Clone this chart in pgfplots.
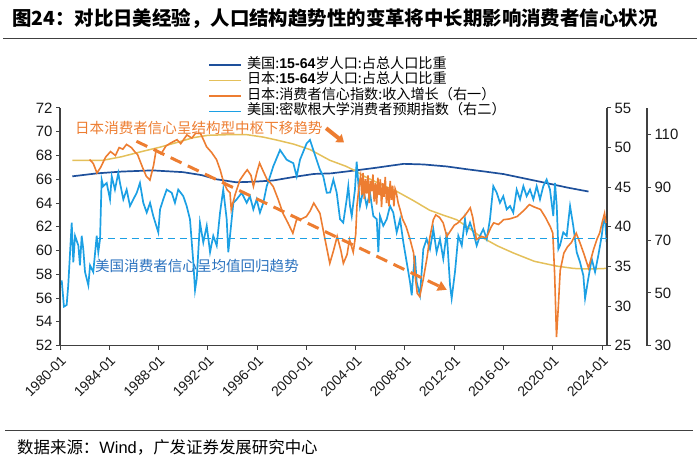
\documentclass[border=0pt]{standalone}
\usepackage{fontspec}
\setmainfont{Liberation Sans}
\newfontfamily\cjk{Noto Sans CJK SC}
\usepackage{pgfplots}
\pgfplotsset{compat=1.18}
\usetikzlibrary{arrows.meta}
\definecolor{usblue}{RGB}{30,80,155}
\definecolor{jpgold}{RGB}{228,192,90}
\definecolor{jporange}{RGB}{237,125,49}
\definecolor{mich}{RGB}{28,160,228}
\definecolor{txtblue}{RGB}{41,113,190}
\definecolor{axisgray}{RGB}{64,64,64}
\pgfplotsset{
  base/.style={
    at={(60bp,115.3bp)}, anchor=south west,
    width=547bp, height=237.7bp, scale only axis,
    xmin=1980, xmax=2024.4,
    axis line style={axisgray, line width=1.1bp},
    tick style={axisgray, line width=1bp},
    tick align=outside, major tick length=4bp,
    /pgf/number format/assume math mode=true,
    tick label style={font=\fontsize{15}{15}\selectfont, color=black!90},
    clip=false,
  },
}
\begin{document}
\begin{tikzpicture}[x=1bp,y=1bp]
\useasboundingbox (0,0) rectangle (700,461);
% title & footer
\node[anchor=west, inner sep=0] at (12,442) {\fontsize{19.5}{20}\selectfont\bfseries\cjk 图24：对比日美经验，人口结构趋势性的变革将中长期影响消费者信心状况};
\draw[axisgray, line width=1.2bp] (3,422.5) -- (697,422.5);
\draw[axisgray, line width=1.2bp] (5,30.3) -- (693,30.3);
\node[anchor=west, inner sep=0] at (17,14) {\fontsize{16.5}{17}\selectfont{\cjk 数据来源：}Wind{\cjk ，广发证券发展研究中心}};

% ---------- left axis ----------
\begin{axis}[base,
  ymin=52, ymax=72, ytick={52,54,...,72},
  axis x line*=bottom, axis y line*=left,
  xtick={1980,1984,...,2024},
  xticklabels={1980-01,1984-01,1988-01,1992-01,1996-01,2000-01,2004-01,2008-01,2012-01,2016-01,2020-01,2024-01},
  x tick label style={rotate=45, anchor=north east, font=\fontsize{14}{14}\selectfont},
  legend cell align=left,
  legend style={at={(0.2711,1.2133)}, anchor=north west, draw=none, fill=none,
    inner sep=0pt, row sep=0pt,
    nodes={inner sep=0pt, text height=11bp, text depth=4.4bp},
    font=\fontsize{14.2}{14}\selectfont},
  legend image code/.code={\draw[#1] (0bp,0bp) -- (32bp,0bp); \path (37bp,0bp);},
]
\addlegendimage{usblue, line width=1.6bp}
\addlegendentry{{\cjk 美国:}\textbf{15-64}{\cjk 岁人口:占总人口比重}}
\addlegendimage{jpgold, line width=1.6bp}
\addlegendentry{{\cjk 日本:}\textbf{15-64}{\cjk 岁人口:占总人口比重}}
\addlegendimage{jporange, line width=1.6bp}
\addlegendentry{{\cjk 日本:消费者信心指数:收入增长（右一）}}
\addlegendimage{mich, line width=1.6bp}
\addlegendentry{{\cjk 美国:密歇根大学消费者预期指数（右二）}}

\addplot[usblue, line width=1.7bp, forget plot] coordinates {
(1981.0,66.25) (1983.0,66.5) (1985.0,66.65) (1987.5,66.75) (1990.0,66.6) (1991.5,66.35)
(1992.7,66.0) (1994.3,65.75) (1995.8,65.8) (1997.3,65.9) (1999.0,66.2) (2000.6,66.45)
(2002.0,66.5) (2004.0,66.75) (2005.5,66.95) (2006.8,67.14) (2007.9,67.3) (2009.5,67.25)
(2011.4,67.08) (2013.0,66.85) (2014.5,66.65) (2016.0,66.44) (2017.8,66.05) (2019.5,65.68)
(2021.2,65.3) (2022.9,64.97)};
\addplot[jpgold, line width=1.5bp, forget plot] coordinates {
(1981.0,67.6) (1983.5,67.6) (1985.0,67.9) (1986.5,68.3) (1988.1,68.7) (1989.5,69.1)
(1990.8,69.5) (1992.0,69.7) (1993.5,69.75) (1995.2,69.75) (1996.5,69.55) (1997.6,69.3)
(1999.0,68.95) (2000.3,68.5) (2001.9,67.6) (2003.2,67.1) (2004.0,66.7) (2004.6,66.3)
(2006.0,65.6) (2007.3,65.0) (2008.7,64.2) (2010.0,63.4) (2011.2,62.95) (2012.2,62.6)
(2013.2,61.9) (2014.1,61.2) (2015.5,60.4) (2016.8,59.8) (2018.5,59.1) (2020.3,58.7)
(2021.7,58.5) (2023.0,58.45) (2024.3,58.5)};
\end{axis}

% ---------- right axis 2 (Michigan) ----------
\begin{axis}[base,
  ymin=30, ymax=120, ytick={30,50,...,110},
  axis x line=none, axis y line*=right,
  y axis line style={xshift=40bp},
  ytick style={xshift=40bp},
  yticklabel style={xshift=40bp},
]
\addplot[mich, line width=1.7bp] coordinates {
(1980.14,54.7) (1980.32,44.8) (1980.54,45.4) (1980.67,52.9) (1980.95,76.6) (1981.08,61.6)
(1981.22,71.6) (1981.49,67.9) (1981.62,60.4) (1981.76,71.6) (1981.89,66.6) (1982.03,57.9)
(1982.30,52.9) (1982.44,60.4) (1982.70,57.9) (1982.98,71.6) (1983.11,65.4) (1983.25,70.4)
(1983.38,92.9) (1983.51,90.4) (1983.79,91.6) (1984.06,85.4) (1984.20,94.1) (1984.46,89.1)
(1984.73,95.4) (1984.87,91.6) (1985.14,85.4) (1985.41,89.1) (1985.68,82.9) (1985.95,85.4)
(1986.23,87.9) (1986.49,91.6) (1986.76,84.1) (1987.04,80.4) (1987.31,84.1) (1987.57,79.1)
(1987.98,72.9) (1988.12,81.6) (1988.38,85.4) (1988.66,89.1) (1989.07,87.9) (1989.33,84.1)
(1989.60,89.1) (1990.01,86.6) (1990.28,82.9) (1990.55,77.9) (1990.82,61.6) (1990.96,51.0)
(1991.10,55.4) (1991.36,76.6) (1991.63,69.1) (1991.91,75.4) (1992.18,65.4) (1992.44,71.6)
(1992.72,67.9) (1992.99,80.4) (1993.25,89.1) (1993.53,77.9) (1993.66,65.4) (1993.80,71.6)
(1994.07,84.1) (1994.34,85.4) (1994.75,87.9) (1995.15,84.1) (1995.42,86.6) (1995.69,81.6)
(1995.96,85.4) (1996.23,80.4) (1996.50,84.1) (1996.78,90.4) (1997.05,94.1) (1997.31,97.9)
(1997.86,104.1) (1998.40,100.4) (1998.94,99.1) (1999.21,94.1) (1999.48,100.4) (2000.02,106.6)
(2000.29,107.9) (2000.56,104.1) (2001.10,96.6) (2001.37,94.1) (2001.65,87.9) (2001.92,88.0)
(2002.19,92.9) (2002.46,87.9) (2002.73,77.9) (2002.99,76.6) (2003.27,85.4) (2003.40,90.4)
(2003.54,82.9) (2003.68,79.1) (2003.94,89.1) (2004.08,99.7) (2004.21,91.6) (2004.35,82.9)
(2004.62,89.1) (2004.89,82.9) (2005.16,87.9) (2005.43,79.1) (2005.71,77.9) (2005.84,65.4)
(2005.97,79.1) (2006.24,75.4) (2006.52,77.9) (2006.79,82.9) (2007.05,80.4) (2007.33,72.9)
(2007.60,77.9) (2007.87,69.1) (2008.14,61.6) (2008.41,54.1) (2008.55,49.1) (2008.68,57.9)
(2008.81,64.1) (2008.95,54.1) (2009.22,49.1) (2009.49,66.6) (2009.76,70.4) (2010.03,66.6)
(2010.30,74.1) (2010.57,65.4) (2010.84,70.4) (2011.11,62.9) (2011.39,72.9) (2011.66,52.9)
(2011.79,47.9) (2012.06,57.9) (2012.33,71.6) (2012.61,67.9) (2012.87,77.9) (2013.01,72.9)
(2013.28,76.6) (2013.55,72.9) (2013.82,67.9) (2014.09,71.6) (2014.36,74.1) (2014.64,70.4)
(2014.90,77.9) (2015.17,90.4) (2015.45,87.9) (2015.71,84.1) (2015.98,86.6) (2016.26,81.6)
(2016.53,82.9) (2016.79,80.4) (2017.07,89.1) (2017.34,85.4) (2017.61,90.4) (2017.88,86.6)
(2018.15,89.1) (2018.42,85.4) (2018.69,90.4) (2018.96,85.4) (2019.23,90.4) (2019.50,92.9)
(2019.77,89.1) (2020.04,79.1) (2020.18,91.6) (2020.32,82.9) (2020.45,66.6) (2020.58,67.9)
(2020.85,72.9) (2021.13,71.6) (2021.40,82.9) (2021.66,75.4) (2021.94,65.4) (2022.21,61.6)
(2022.48,56.6) (2022.62,47.9) (2022.88,55.4) (2023.16,62.9) (2023.43,57.9) (2023.69,64.1)
(2023.97,71.6) (2024.10,76.6) (2024.24,77.9) (2024.37,69.1)};
\end{axis}

% ---------- right axis 1 (Japan confidence) ----------
\begin{axis}[base,
  ymin=25, ymax=55, ytick={25,30,...,55},
  axis x line=none, axis y line*=right,
]
\addplot[jporange, line width=1.6bp] coordinates {
(1982.4,48.5) (1982.7,48.0) (1983.0,46.8) (1983.3,47.5) (1983.7,48.8) (1984.1,49.5)
(1984.5,49.0) (1984.8,50.0) (1985.1,49.8) (1985.4,50.4) (1985.8,50.0) (1986.0,49.6)
(1986.3,49.1) (1986.7,47.5) (1987.0,46.4) (1987.3,45.9) (1987.6,47.8) (1987.8,49.7)
(1988.2,49.2) (1988.6,50.2) (1989.0,50.6) (1989.5,51.0) (1989.8,50.5) (1990.3,51.6)
(1990.7,51.2) (1991.0,51.8) (1991.4,51.8) (1991.7,50.8) (1991.9,50.1) (1992.3,49.4)
(1992.7,48.5) (1993.0,47.2) (1993.3,45.5) (1993.6,44.6) (1993.8,44.3) (1993.9,42.2)
(1994.2,44.0) (1994.6,45.9) (1995.0,46.8) (1995.2,47.2) (1995.5,46.5) (1995.7,45.1)
(1996.0,47.0) (1996.2,48.05) (1996.5,47.0) (1996.8,46.0) (1997.1,45.5) (1997.3,45.1)
(1997.7,43.5) (1998.1,41.7) (1998.5,40.5) (1998.9,39.2) (1999.2,40.9) (1999.6,41.0)
(2000.0,41.3) (2000.3,42.0) (2000.6,43.0) (2001.1,41.7) (2001.5,38.5) (2001.9,35.4)
(2002.2,37.0) (2002.5,38.8) (2002.8,37.0) (2003.0,35.4) (2003.3,36.5) (2003.5,38.4)
(2003.8,36.8) (2004.0,39.0) (2004.1,42.6) (2004.3,45.5) (2004.4,46.4)
(2004.5,44.0) (2004.6,46.8) (2004.7,43.5) (2004.8,46.0) (2004.9,44.2) (2005.0,46.5)
(2005.1,43.0) (2005.2,45.8) (2005.3,44.5) (2005.4,46.6) (2005.5,43.2) (2005.6,45.5)
(2005.7,42.8) (2005.8,46.2) (2005.9,44.0) (2006.0,46.0) (2006.1,42.5) (2006.2,45.5)
(2006.3,43.8) (2006.4,46.3) (2006.5,43.0) (2006.6,45.0) (2006.7,42.6) (2006.8,45.8)
(2006.9,43.4) (2007.0,45.2) (2007.1,42.6) (2007.2,44.8) (2007.3,44.3) (2007.45,43.0)
(2007.6,42.2) (2007.8,41.0) (2008.1,40.0) (2008.4,38.5) (2008.7,36.7) (2008.85,33.5)
(2009.0,31.6) (2009.2,31.2) (2009.5,33.5) (2009.8,36.2) (2010.0,38.5) (2010.3,40.9)
(2010.5,41.5) (2010.8,41.2) (2011.1,40.5) (2011.4,38.8) (2011.7,39.5) (2012.0,40.2)
(2012.3,40.5) (2012.6,41.0) (2012.9,41.5) (2013.3,42.4) (2013.5,41.2) (2013.8,38.4)
(2014.2,38.8) (2014.6,38.6) (2015.0,40.0) (2015.2,40.5) (2015.6,40.3) (2016.0,40.9)
(2016.5,41.0) (2017.1,41.3) (2017.6,42.0) (2018.1,42.8) (2018.5,42.5) (2019.0,42.2)
(2019.4,41.2) (2019.8,40.0) (2020.0,39.2) (2020.15,34.0) (2020.3,26.1) (2020.45,30.0)
(2020.6,34.5) (2020.9,36.7) (2021.2,37.5) (2021.5,38.0) (2021.9,39.2) (2022.2,38.0)
(2022.5,36.7) (2022.9,34.8) (2023.3,37.1) (2023.6,38.5) (2023.8,39.2) (2024.0,40.5)
(2024.2,41.7) (2024.3,40.5)};
\end{axis}

% ---------- annotations (left scale) ----------
\begin{axis}[base, ymin=52, ymax=72, hide axis]
\addplot[mich, line width=1.5bp, dash pattern=on 7bp off 5bp] coordinates {(1982.9,61.0) (2024.4,61.0)};
\addplot[jporange, line width=3bp, dash pattern=on 12bp off 7bp, -{Triangle[length=9bp,width=10bp]}] coordinates {(1986.2,69.2) (2011.4,56.7)};
\addplot[jporange, line width=4bp, -{Triangle[length=7bp,width=10bp]}] coordinates {(2001.6,70.3) (2003.05,69.1)};
\end{axis}
\node[anchor=west, inner sep=0, text=jporange] at (75,333) {\fontsize{14.6}{14}\selectfont\cjk 日本消费者信心呈结构型中枢下移趋势};
\node[anchor=west, inner sep=0, text=txtblue] at (95,195) {\fontsize{14.6}{14}\selectfont\cjk 美国消费者信心呈均值回归趋势};
\end{tikzpicture}
\end{document}
